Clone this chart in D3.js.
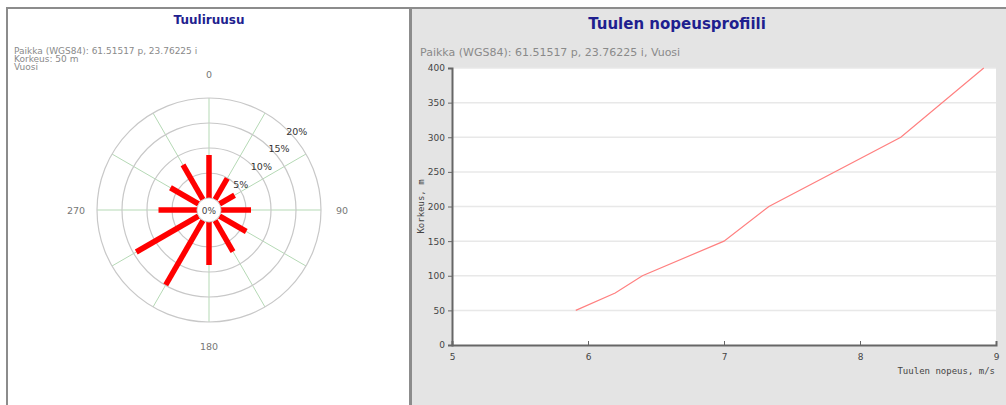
<!DOCTYPE html>
<html>
<head>
<meta charset="utf-8">
<script src="https://cdn.jsdelivr.net/npm/d3@7"></script>
<style>
  body { margin: 0; background: #fff; }
  svg { display: block; }
</style>
</head>
<body>
<div class="chart"></div>
<script>
// wind rose: direction (deg) and frequency (%)
const directions = [0, 30, 60, 90, 120, 150, 180, 210, 240, 270, 300, 330];
const frequencies = [8.6, 4.9, 3.5, 6.0, 6.2, 7.2, 8.6, 14.9, 14.4, 7.7, 6.5, 8.0];
const ringTicks = [5, 10, 15, 20];
const compassLabels = [0, 90, 180, 270];

// speed profile: speed (m/s) and height (m)
const speeds = [5.91, 6.2, 6.4, 7.0, 7.33, 8.3, 8.91];
const heights = [50, 75, 100, 150, 200, 300, 400];
const heightTicks = [0, 50, 100, 150, 200, 250, 300, 350, 400];
const speedTicks = [5, 6, 7, 8, 9];

const width = 1006;
const height = 405;

const svg = d3.select('.chart')
  .append('svg')
  .attr('width', width)
  .attr('height', height)
  .style('font-family', '"DejaVu Sans", sans-serif');

// ---------- panels ----------
svg.append('rect')
  .attr('x', 7).attr('y', 8)
  .attr('width', 403).attr('height', 400)
  .attr('fill', '#fff')
  .attr('stroke', '#8c8c8c')
  .attr('stroke-width', 2);

svg.append('rect')
  .attr('x', 411).attr('y', 8)
  .attr('width', 600).attr('height', 400)
  .attr('fill', '#e4e4e4')
  .attr('stroke', '#8c8c8c')
  .attr('stroke-width', 2);

// ---------- wind rose ----------
const cx = 209, cy = 210;
const rose = svg.append('g').attr('transform', `translate(${cx},${cy})`);

const r = d3.scaleLinear().domain([0, 20]).range([12, 112]);
const angle = d3.scaleLinear().domain([0, 360]).range([0, 2 * Math.PI]);

svg.append('text')
  .attr('x', cx).attr('y', 24)
  .attr('text-anchor', 'middle')
  .attr('font-size', 12)
  .attr('font-weight', 'bold')
  .attr('fill', '#1f1f8f')
  .text('Tuuliruusu');

const infoLines = ['Paikka (WGS84): 61.51517 p, 23.76225 i', 'Korkeus: 50 m', 'Vuosi'];
svg.selectAll('.info')
  .data(infoLines)
  .enter()
  .append('text')
  .attr('class', 'info')
  .attr('x', 14)
  .attr('y', (d, i) => 54 + i * 8)
  .attr('font-size', 9)
  .attr('fill', '#8a8a8a')
  .text(d => d);

// spokes
const spokes = d3.range(0, 360, 30);
rose.selectAll('.spoke')
  .data(spokes)
  .enter()
  .append('line')
  .attr('class', 'spoke')
  .attr('x1', d => Math.sin(angle(d)) * r(0))
  .attr('y1', d => -Math.cos(angle(d)) * r(0))
  .attr('x2', d => Math.sin(angle(d)) * r(20))
  .attr('y2', d => -Math.cos(angle(d)) * r(20))
  .attr('stroke', '#b5d9b5')
  .attr('stroke-width', 1);

// rings
rose.selectAll('.ring')
  .data(ringTicks)
  .enter()
  .append('circle')
  .attr('class', 'ring')
  .attr('r', d => r(d))
  .attr('fill', 'none')
  .attr('stroke', '#c8c8c8')
  .attr('stroke-width', 1.2);

// bars
rose.selectAll('.bar')
  .data(directions)
  .enter()
  .append('line')
  .attr('class', 'bar')
  .attr('x1', d => Math.sin(angle(d)) * r(0))
  .attr('y1', d => -Math.cos(angle(d)) * r(0))
  .attr('x2', (d, i) => Math.sin(angle(d)) * r(frequencies[i]))
  .attr('y2', (d, i) => -Math.cos(angle(d)) * r(frequencies[i]))
  .attr('stroke', '#ff0000')
  .attr('stroke-width', 5.5);

// center hole
rose.append('circle')
  .attr('r', r(0))
  .attr('fill', '#fff')
  .attr('stroke', '#c8c8c8')
  .attr('stroke-width', 1);

rose.append('text')
  .attr('y', 4)
  .attr('text-anchor', 'middle')
  .attr('font-size', 9)
  .attr('fill', '#444')
  .text('0%');

// ring labels along 45 deg
rose.selectAll('.ringlabel')
  .data(ringTicks)
  .enter()
  .append('text')
  .attr('class', 'ringlabel')
  .attr('x', d => Math.sin(angle(45)) * r(d) - 2)
  .attr('y', d => -Math.cos(angle(45)) * r(d) + 4)
  .attr('font-size', 9.5)
  .attr('fill', '#333')
  .text(d => d + '%');

// compass labels
rose.selectAll('.compass')
  .data(compassLabels)
  .enter()
  .append('text')
  .attr('class', 'compass')
  .attr('x', d => Math.sin(angle(d)) * 133)
  .attr('y', d => -Math.cos(angle(d)) * 136 + 4)
  .attr('text-anchor', 'middle')
  .attr('font-size', 9.5)
  .attr('fill', '#777')
  .text(d => d);

// ---------- speed profile ----------
const x = d3.scaleLinear().domain([5, 9]).range([452, 996]);
const y = d3.scaleLinear().domain([0, 400]).range([345, 68]);

svg.append('text')
  .attr('x', 677).attr('y', 29)
  .attr('text-anchor', 'middle')
  .attr('font-size', 15)
  .attr('font-weight', 'bold')
  .attr('fill', '#1f1f8f')
  .text('Tuulen nopeusprofiili');

svg.append('text')
  .attr('x', 420).attr('y', 56)
  .attr('font-size', 11)
  .attr('fill', '#8a8a8a')
  .text('Paikka (WGS84): 61.51517 p, 23.76225 i, Vuosi');

svg.append('rect')
  .attr('x', x(5)).attr('y', y(400))
  .attr('width', x(9) - x(5))
  .attr('height', y(0) - y(400))
  .attr('fill', '#fff');

// gridlines
svg.selectAll('.grid')
  .data(heightTicks.filter(d => d > 0))
  .enter()
  .append('line')
  .attr('class', 'grid')
  .attr('x1', x(5)).attr('x2', x(9))
  .attr('y1', d => y(d)).attr('y2', d => y(d))
  .attr('stroke', '#e8e8e8')
  .attr('stroke-width', 1.5);

const yAxis = svg.append('g')
  .attr('transform', `translate(${x(5)},0)`)
  .call(d3.axisLeft(y).tickValues(heightTicks).tickSize(4).tickPadding(3));

const xAxis = svg.append('g')
  .attr('transform', `translate(0,${y(0)})`)
  .call(d3.axisBottom(x).tickValues(speedTicks).tickFormat(d3.format('d')).tickSize(-4).tickPadding(9));

[yAxis, xAxis].forEach(ax => {
  ax.select('.domain').attr('stroke', '#666').attr('stroke-width', 2);
  ax.selectAll('.tick line').attr('stroke', '#666');
  ax.selectAll('.tick text')
    .attr('fill', '#444')
    .attr('font-size', 9)
    .attr('font-family', '"DejaVu Sans", sans-serif');
});

svg.append('text')
  .attr('transform', `translate(424,${y(200)}) rotate(-90)`)
  .attr('text-anchor', 'middle')
  .attr('font-size', 9)
  .attr('font-family', '"DejaVu Sans Mono", monospace')
  .attr('fill', '#444')
  .text('Korkeus, m');

svg.append('text')
  .attr('x', 995).attr('y', 374)
  .attr('text-anchor', 'end')
  .attr('font-size', 9)
  .attr('font-family', '"DejaVu Sans Mono", monospace')
  .attr('fill', '#444')
  .text('Tuulen nopeus, m/s');

const profile = speeds.map((s, i) => ({ speed: s, height: heights[i] }));
svg.append('path')
  .datum(profile)
  .attr('fill', 'none')
  .attr('stroke', '#ff8080')
  .attr('stroke-width', 1.2)
  .attr('d', d3.line().x(d => x(d.speed)).y(d => y(d.height)));
</script>
</body>
</html>
